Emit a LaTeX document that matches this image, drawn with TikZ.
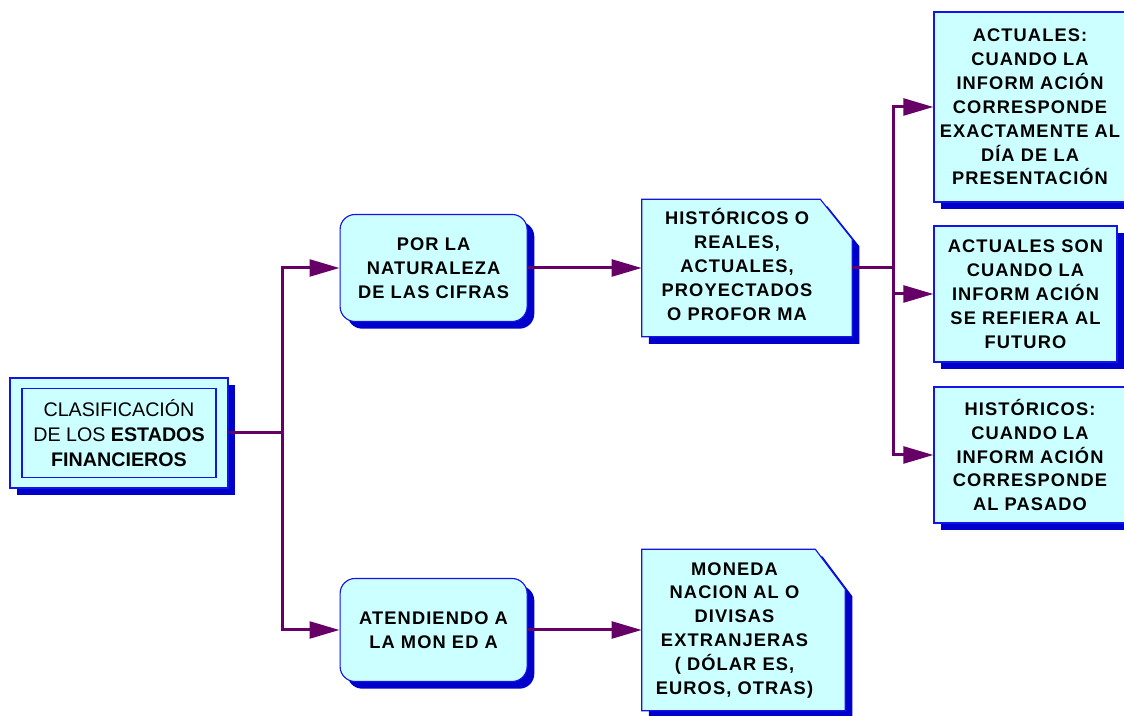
\documentclass[tikz,border=0pt]{standalone}
\usepackage{fontspec}
\setmainfont{Liberation Sans}
\newfontfamily\boxfont{Liberation Sans}[LetterSpace=6]
\usepackage{tikz}
\usetikzlibrary{positioning}
\usetikzlibrary{arrows.meta}
\usetikzlibrary{shadows}
\usetikzlibrary{backgrounds}

\definecolor{boxfill}{RGB}{204,255,255}
\definecolor{boxline}{RGB}{20,20,230}
\definecolor{shadowblue}{RGB}{0,0,204}
\definecolor{linkpurple}{RGB}{102,0,102}

\tikzset{
  boxshadow/.style={drop shadow={shadow xshift=0.18cm, shadow yshift=-0.18cm, fill=shadowblue, opacity=1}},
  box/.style={rectangle, draw=boxline, line width=0.8pt, fill=boxfill, align=center, inner sep=0pt,
    font=\boxfont\bfseries\fontsize{13}{17}\selectfont, boxshadow},
  roundbox/.style={box, rounded corners=0.375cm},
  doctext/.style={rectangle, inner sep=0pt, font=\boxfont\bfseries\fontsize{13}{17}\selectfont},
  docshape/.style={draw=boxline, line width=0.8pt, fill=boxfill, boxshadow},
  link/.style={draw=linkpurple, line width=0.075cm},
  arrowlink/.style={link, -{Triangle[length=0.75cm, width=0.42cm]}},
}
\setlength{\tabcolsep}{0pt}

\begin{document}
\begin{tikzpicture}
	\useasboundingbox (0,0) rectangle (28.1,17.9);
	\clip (0,0) rectangle (28.1,17.9);
	
	\node[box, minimum width=5.45cm, minimum height=2.75cm] (root) at (2.975,7.075) {};
	\node[draw=boxline, line width=0.8pt, minimum width=4.85cm, minimum height=2.225cm, align=center, font=\fontsize{14}{18}\selectfont] (rootin) at (root.center) {CLASIFICACIÓN\\DE LOS \textbf{ESTADOS}\\\textbf{FINANCIEROS}};
	
	\node[roundbox, minimum width=4.675cm, minimum height=2.675cm] (nat) at (10.84,11.2) {POR LA\\NATURALEZA\\DE LAS CIFRAS};
	\node[roundbox, minimum width=4.675cm, minimum height=2.575cm] (mon) at (10.84,2.15) {ATENDIENDO A\\LA MON ED A};
	
	\node[doctext, minimum width=5.25cm, minimum height=3.425cm] (hist) at (18.675,11.2) {\hspace*{-0.5cm}\begin{tabular}{c}HISTÓRICOS O\\REALES,\\ACTUALES,\\PROYECTADOS\\O PROFOR MA\end{tabular}};
	\node[doctext, minimum width=5.075cm, minimum height=4.025cm] (money) at (18.5875,2.15) {\hspace*{-0.45cm}\begin{tabular}{c}MONEDA\\NACION AL O\\DIVISAS\\EXTRANJERAS\\( DÓLAR ES,\\EUROS, OTRAS)\end{tabular}};
	
	% folded sheets behind the two text nodes
	\begin{scope}[on background layer]
		\path[docshape] (hist.north west) -- ([xshift=-0.8cm]hist.north east) -- ([yshift=-1cm]hist.north east) -- (hist.south east) -- (hist.south west) -- cycle;
		\path[docshape] (money.north west) -- ([xshift=-0.75cm]money.north east) -- ([yshift=-1cm]money.north east) -- (money.south east) -- (money.south west) -- cycle;
	\end{scope}
	
	\node[box, minimum width=4.8cm, minimum height=4.75cm] (actual) at (25.75,15.225) {ACTUALES:\\CUANDO LA\\INFORM ACIÓN\\CORRESPONDE\\EXACTAMENTE AL\\DÍA DE LA\\PRESENTACIÓN};
	\node[box, minimum width=4.575cm, minimum height=3.4cm] (future) at (25.6375,10.55) {ACTUALES SON\\CUANDO LA\\INFORM ACIÓN\\SE REFIERA AL\\FUTURO};
	\node[box, minimum width=4.8cm, minimum height=3.4cm] (past) at (25.75,6.525) {HISTÓRICOS:\\CUANDO LA\\INFORM ACIÓN\\CORRESPONDE\\AL PASADO};
	
	\draw[arrowlink] (root.east) -- ++(1.35,0) |- (nat.west);
	\draw[arrowlink] (root.east) -- ++(1.35,0) |- (mon.west);
	\draw[arrowlink] (nat.east) -- (hist.west);
	\draw[arrowlink] (mon.east) -- (money.west);
	\draw[arrowlink] (hist.east) -- ++(1.025,0) |- (actual.west);
	\draw[arrowlink] (hist.east) -- ++(1.025,0) |- (future.west);
	\draw[arrowlink] (hist.east) -- ++(1.025,0) |- (past.west);
\end{tikzpicture}
\end{document}
